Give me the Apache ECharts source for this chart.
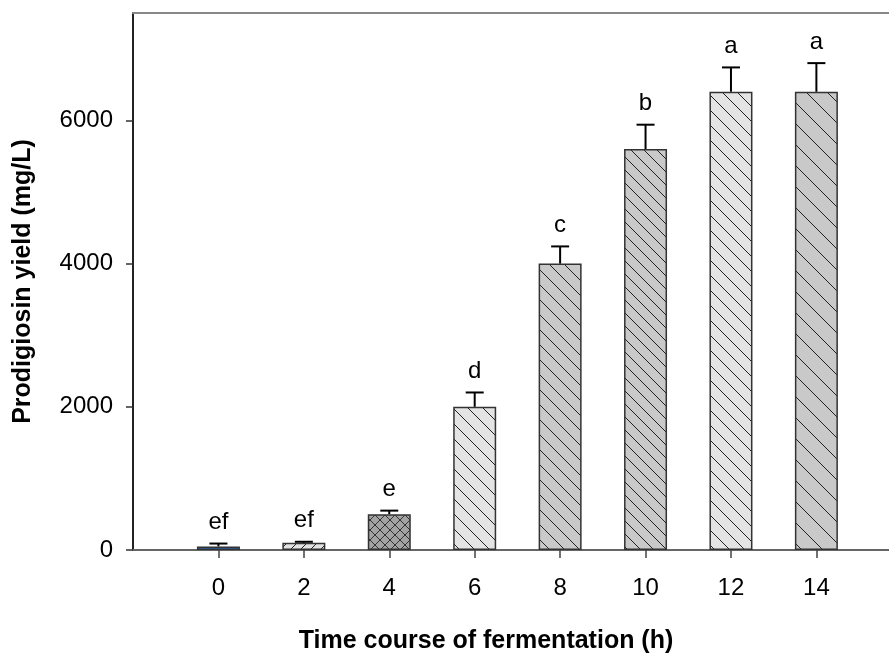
<!DOCTYPE html>
<html>
<head>
<meta charset="utf-8">
<script src="https://cdn.jsdelivr.net/npm/echarts@6/dist/echarts.min.js"></script>
<style>
html,body{margin:0;padding:0;background:#fff;}
#chart{width:889px;height:659px;}
</style>
</head>
<body>
<div id="chart"></div>
<script>
// ---- data ----
const categories = [0, 2, 4, 6, 8, 10, 12, 14];
const yields = [50, 100, 500, 2000, 4000, 5600, 6400, 6400];
const errors = [40, 15, 50, 200, 240, 340, 340, 400];
const letters = ['ef', 'ef', 'e', 'd', 'c', 'b', 'a', 'a'];
const yTicks = [0, 2000, 4000, 6000];

// ---- patterns (styles) ----
function hatch(bg, s, dirs, lineColor, lw) {
  const c = document.createElement('canvas');
  c.width = s; c.height = s;
  const ctx = c.getContext('2d');
  ctx.fillStyle = bg; ctx.fillRect(0, 0, s, s);
  ctx.strokeStyle = lineColor; ctx.lineWidth = lw;
  dirs.forEach(d => {
    for (let o = -s; o <= s; o += s) {
      ctx.beginPath();
      if (d === 'back') { ctx.moveTo(o, 0); ctx.lineTo(o + s, s); }
      else if (d === 'fwd') { ctx.moveTo(o, s); ctx.lineTo(o + s, 0); }
      ctx.stroke();
    }
  });
  return { image: c, repeat: 'repeat' };
}
function dashes(bg, lineColor) {
  const c = document.createElement('canvas');
  c.width = 10; c.height = 4;
  const ctx = c.getContext('2d');
  ctx.fillStyle = bg; ctx.fillRect(0, 0, 10, 4);
  ctx.strokeStyle = lineColor; ctx.lineWidth = 1;
  ctx.beginPath(); ctx.moveTo(1, 2); ctx.lineTo(7, 2); ctx.stroke();
  return { image: c, repeat: 'repeat' };
}
const fills = [
  dashes('#2a73d0', '#0b3a85'),
  hatch('#e2e2e2', 10, ['fwd'], '#222', 1),
  hatch('#a3a3a3', 10, ['fwd', 'back'], '#333', 1),
  hatch('#e4e4e4', 15, ['back'], '#222', 1),
  hatch('#c9c9c9', 15, ['back'], '#222', 1),
  hatch('#c9c9c9', 13, ['back'], '#222', 1),
  hatch('#e4e4e4', 15, ['back'], '#222', 1),
  hatch('#c9c9c9', 21, ['back'], '#222', 1)
];

const chart = echarts.init(document.getElementById('chart'), null, { renderer: 'canvas' });
const FONT = 'Liberation Sans, Arial, sans-serif';

const option = {
  backgroundColor: '#fff',
  animation: false,
  grid: { left: 133, right: 0, top: 13, bottom: 105, containLabel: false },
  xAxis: [{
    type: 'value', min: -2, max: 15.7, interval: 2,
    name: 'Time course of fermentation (h)',
    nameLocation: 'middle', nameGap: 79,
    nameTextStyle: { fontFamily: FONT, fontSize: 25, fontWeight: 'bold', color: '#000', padding: [0, 50, 0, 0] },
    axisLine: { show: true, onZero: false, lineStyle: { color: '#666', width: 2 } },
    axisTick: { show: true, length: 8, lineStyle: { color: '#444', width: 1.5 }, customValues: categories },
    axisLabel: { fontFamily: FONT, fontSize: 24, color: '#000', margin: 26, customValues: categories },
    splitLine: { show: false }
  }, {
    type: 'value', min: -2, max: 15.7, position: 'top',
    axisLine: { show: true, onZero: false, lineStyle: { color: '#888', width: 2 } },
    axisTick: { show: false }, axisLabel: { show: false }, splitLine: { show: false }
  }],
  yAxis: {
    type: 'value', min: 0, max: 7500, interval: 2000,
    name: 'Prodigiosin yield (mg/L)',
    nameLocation: 'middle', nameGap: 97, nameRotate: 90,
    nameTextStyle: { fontFamily: FONT, fontSize: 25, fontWeight: 'bold', color: '#000' },
    axisLine: { show: true, onZero: false, lineStyle: { color: '#222', width: 2 } },
    axisTick: { show: true, length: 7, lineStyle: { color: '#333', width: 1.5 }, customValues: yTicks },
    axisLabel: { fontFamily: FONT, fontSize: 24, color: '#000', margin: 20, customValues: yTicks,
      formatter: v => String(v) },
    splitLine: { show: false }
  },
  series: [{
    type: 'bar',
    xAxisIndex: 0,
    barWidth: 43,
    data: categories.map((c, i) => ({ value: [c, yields[i]], itemStyle: { color: fills[i] } })),
    itemStyle: { borderColor: '#333', borderWidth: 1.5 },
    z: 2
  }, {
    type: 'custom',
    xAxisIndex: 0,
    data: categories.map((c, i) => [c, yields[i], errors[i]]),
    renderItem: function (params, api) {
      const x = api.value(0), v = api.value(1), e = api.value(2);
      const base = api.coord([x, v]);
      const top = api.coord([x, v + e]);
      return {
        type: 'group',
        children: [
          { type: 'line', shape: { x1: base[0], y1: base[1], x2: top[0], y2: top[1] }, style: { stroke: '#000', lineWidth: 2 } },
          { type: 'line', shape: { x1: top[0] - 9, y1: top[1], x2: top[0] + 9, y2: top[1] }, style: { stroke: '#000', lineWidth: 2 } },
          { type: 'text', style: { text: letters[params.dataIndex], x: top[0], y: top[1] - 9, align: 'center', verticalAlign: 'bottom', font: '24px ' + FONT, fill: '#000' } }
        ]
      };
    },
    z: 3
  }]
};
chart.setOption(option);
</script>
</body>
</html>
